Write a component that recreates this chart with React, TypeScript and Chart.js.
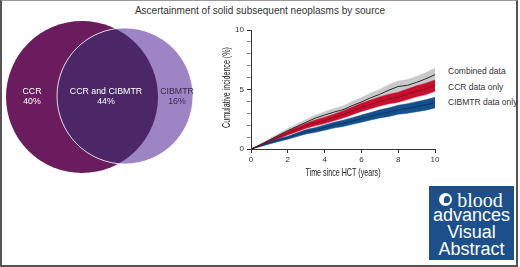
import React, { useEffect, useRef } from 'react';
import { Chart, registerables } from 'chart.js';

Chart.register(...registerables);

// ---------- data ----------
const TITLE = 'Ascertainment of solid subsequent neoplasms by source';

const VENN_LABELS = ['CCR', 'CCR and CIBMTR', 'CIBMTR'];
const VENN_SHARES = [40, 44, 16];

const YEARS = [0, 0.5, 1, 1.5, 2, 2.5, 3, 3.5, 4, 4.5, 5, 5.5, 6, 6.5, 7, 7.5, 8, 8.5, 9, 9.5, 10];

const COMBINED = [0, 0.35, 0.75, 1.15, 1.55, 1.9, 2.25, 2.6, 2.85, 3.1, 3.3, 3.65, 3.95, 4.3, 4.6, 4.95, 5.25, 5.35, 5.6, 5.9, 6.25];
const COMBINED_LO = [0, 0.28, 0.63, 1.0, 1.37, 1.69, 2.02, 2.34, 2.57, 2.8, 2.98, 3.3, 3.58, 3.9, 4.18, 4.5, 4.78, 4.87, 5.1, 5.38, 5.72];
const COMBINED_HI = [0, 0.42, 0.87, 1.3, 1.73, 2.11, 2.48, 2.86, 3.13, 3.4, 3.62, 4.0, 4.32, 4.7, 5.02, 5.4, 5.72, 5.83, 6.1, 6.42, 6.8];

const CCR = [0, 0.3, 0.65, 1.0, 1.35, 1.65, 1.95, 2.2, 2.4, 2.65, 2.9, 3.2, 3.5, 3.75, 4.0, 4.2, 4.35, 4.6, 4.85, 5.05, 5.35];
const CCR_LO = [0, 0.24, 0.54, 0.86, 1.18, 1.46, 1.74, 1.96, 2.14, 2.37, 2.6, 2.88, 3.16, 3.39, 3.62, 3.8, 3.93, 4.16, 4.39, 4.57, 4.85];
const CCR_HI = [0, 0.36, 0.76, 1.14, 1.52, 1.84, 2.16, 2.44, 2.66, 2.93, 3.2, 3.52, 3.84, 4.11, 4.38, 4.6, 4.77, 5.04, 5.31, 5.53, 5.8];

const CIBMTR = [0, 0.25, 0.5, 0.75, 0.95, 1.2, 1.45, 1.6, 1.8, 2.0, 2.15, 2.35, 2.55, 2.75, 2.95, 3.1, 3.3, 3.4, 3.55, 3.7, 3.9];
const CIBMTR_LO = [0, 0.2, 0.42, 0.64, 0.82, 1.04, 1.27, 1.4, 1.58, 1.76, 1.89, 2.07, 2.25, 2.43, 2.61, 2.74, 2.92, 3.0, 3.13, 3.26, 3.45];
const CIBMTR_HI = [0, 0.3, 0.58, 0.86, 1.08, 1.36, 1.63, 1.8, 2.02, 2.24, 2.41, 2.63, 2.85, 3.07, 3.29, 3.46, 3.68, 3.8, 3.97, 4.14, 4.35];

const SERIES_NAMES = ['Combined data', 'CCR data only', 'CIBMTR data only'];
const X_TICKS = [0, 2, 4, 6, 8, 10];
const Y_LABELED = [0, 5, 10];
const X_TITLE = 'Time since HCT (years)';
const Y_TITLE = 'Cumulative incidence (%)';

// ---------- styles ----------
const SANS = "'Liberation Sans', Arial, sans-serif";
const TEXT = '#333333';

const pts = (ys: number[]) => YEARS.map((x, i) => ({ x, y: ys[i] }));

// Venn geometry (canvas units)
const VENN_GEOM = {
  left: { cx: 82, cy: 82, r: 76, color: '#6b1c5e' },
  right: { cx: 125, cy: 81, r: 68, color: '#9d84c2' },
  overlap: '#4b2768',
  labelX: [32, 106, 177],
  labelY: [77, 87],
  labelColor: ['#ffffff', '#ffffff', '#3a2a4c'],
};

const vennPlugin = {
  id: 'venn',
  afterDraw(chart: any) {
    const { ctx } = chart;
    const xs = chart.scales.x;
    const ys = chart.scales.y;
    const circ = (c: { cx: number; cy: number; r: number }) => {
      const px = xs.getPixelForValue(c.cx);
      const py = ys.getPixelForValue(c.cy);
      const pr = xs.getPixelForValue(c.cx + c.r) - px;
      ctx.beginPath();
      ctx.arc(px, py, pr, 0, Math.PI * 2);
      ctx.closePath();
    };
    const L = VENN_GEOM.left;
    const R = VENN_GEOM.right;
    ctx.save();
    circ(L);
    ctx.fillStyle = L.color;
    ctx.fill();
    circ(R);
    ctx.fillStyle = R.color;
    ctx.fill();
    ctx.save();
    circ(L);
    ctx.clip();
    circ(R);
    ctx.fillStyle = VENN_GEOM.overlap;
    ctx.fill();
    ctx.restore();
    circ(R);
    ctx.strokeStyle = '#ffffff';
    ctx.lineWidth = 0.8;
    ctx.stroke();

    ctx.font = `8.8px ${SANS}`;
    ctx.textAlign = 'center';
    ctx.textBaseline = 'middle';
    VENN_LABELS.forEach((lab, i) => {
      ctx.fillStyle = VENN_GEOM.labelColor[i];
      const x = xs.getPixelForValue(VENN_GEOM.labelX[i]);
      ctx.fillText(lab, x, ys.getPixelForValue(VENN_GEOM.labelY[0]));
      ctx.fillText(`${VENN_SHARES[i]}%`, x, ys.getPixelForValue(VENN_GEOM.labelY[1]));
    });
    ctx.restore();
  },
};

// Condensed axis titles (no narrow font installed, so squeeze horizontally)
const axisTitlePlugin = {
  id: 'condensedTitles',
  afterDraw(chart: any) {
    const { ctx, chartArea } = chart;
    ctx.save();
    ctx.font = `10.5px ${SANS}`;
    ctx.fillStyle = '#222222';
    ctx.textAlign = 'center';
    ctx.textBaseline = 'middle';
    ctx.save();
    ctx.translate((chartArea.left + chartArea.right) / 2, chartArea.bottom + 24);
    ctx.scale(0.68, 1);
    ctx.fillText(X_TITLE, 0, 0);
    ctx.restore();
    ctx.save();
    ctx.translate(chartArea.left - 24, (chartArea.top + chartArea.bottom) / 2 - 2);
    ctx.rotate(-Math.PI / 2);
    ctx.scale(0.68, 1);
    ctx.fillText(Y_TITLE, 0, 0);
    ctx.restore();
    ctx.restore();
  },
};

function VennChart() {
  const ref = useRef<HTMLCanvasElement>(null);
  useEffect(() => {
    const chart = new Chart(ref.current!, {
      type: 'scatter',
      data: { datasets: [{ data: [], pointRadius: 0 }] },
      options: {
        animation: false,
        responsive: false,
        devicePixelRatio: 1,
        layout: { padding: 0 },
        plugins: { legend: { display: false }, tooltip: { enabled: false } },
        scales: {
          x: { type: 'linear', min: 0, max: 210, display: false },
          y: { type: 'linear', min: 0, max: 170, reverse: true, display: false },
        },
      },
      plugins: [vennPlugin],
    } as any);
    return () => chart.destroy();
  }, []);
  return (
    <canvas
      ref={ref}
      width={210}
      height={170}
      style={{ position: 'absolute', left: 0, top: 15, width: 210, height: 170 }}
    />
  );
}

function IncidenceChart() {
  const ref = useRef<HTMLCanvasElement>(null);
  useEffect(() => {
    const line = (data: number[], color: string) => ({
      data: pts(data),
      borderColor: color,
      borderWidth: 1,
      pointRadius: 0,
      fill: false,
      tension: 0,
    });
    const band = (data: number[], color: string, fill: any) => ({
      data: pts(data),
      borderColor: color,
      borderWidth: 0.5,
      backgroundColor: color,
      pointRadius: 0,
      fill,
      tension: 0,
    });
    const chart = new Chart(ref.current!, {
      type: 'line',
      data: {
        datasets: [
          { label: SERIES_NAMES[0], ...line(COMBINED, '#2b2b2b') },
          { label: SERIES_NAMES[1], ...line(CCR, '#8e0a20') },
          { label: SERIES_NAMES[2], ...line(CIBMTR, '#0a3566') },
          band(CIBMTR_HI, '#14508e', '+1'),
          band(CIBMTR_LO, '#14508e', false),
          band(CCR_HI, '#c8102e', '+1'),
          band(CCR_LO, '#c8102e', false),
          band(COMBINED_HI, '#c9c9c9', '+1'),
          band(COMBINED_LO, '#c9c9c9', false),
        ],
      },
      options: {
        animation: false,
        responsive: false,
        devicePixelRatio: 1,
        layout: { padding: { top: 10, right: 10, left: 0, bottom: 0 } },
        plugins: { legend: { display: false }, tooltip: { enabled: false } },
        scales: {
          x: {
            type: 'linear',
            min: 0,
            max: 10,
            afterFit: (s: any) => { s.height = 36; },
            afterBuildTicks: (s: any) => { s.ticks = X_TICKS.map((v) => ({ value: v })); },
            grid: { drawOnChartArea: false, drawTicks: true, tickLength: 4, color: TEXT },
            border: { display: true, color: TEXT, width: 1 },
            ticks: { color: TEXT, font: { size: 8, family: SANS }, padding: 2, maxRotation: 0 },
            title: { display: false },
          },
          y: {
            type: 'linear',
            min: 0,
            max: 10,
            afterFit: (s: any) => { s.width = 41; },
            grid: {
              drawOnChartArea: false,
              drawTicks: true,
              tickLength: 4,
              color: TEXT,
              tickColor: (c: any) => (c.tick && Y_LABELED.includes(c.tick.value) ? TEXT : '#8a8a8a'),
            },
            border: { display: true, color: TEXT, width: 1 },
            ticks: {
              stepSize: 1,
              autoSkip: false,
              color: TEXT,
              font: { size: 8, family: SANS },
              padding: 3,
              callback: (v: any) => (Y_LABELED.includes(Number(v)) ? String(v) : ''),
            },
            title: { display: false },
          },
        },
      },
      plugins: [axisTitlePlugin],
    } as any);
    return () => chart.destroy();
  }, []);
  return (
    <canvas
      ref={ref}
      width={235}
      height={165}
      style={{ position: 'absolute', left: 210, top: 20, width: 235, height: 165 }}
    />
  );
}

export default function App() {
  useEffect(() => {
    document.body.style.margin = '0';
  }, []);
  const legendTop = [71, 87, 102];
  return (
    <div
      style={{
        position: 'relative',
        width: 520,
        height: 267,
        overflow: 'hidden',
        background: '#ffffff',
        fontFamily: SANS,
      }}
    >
      <div
        style={{
          position: 'absolute',
          left: 0,
          top: 0,
          width: 518,
          height: 267,
          boxSizing: 'border-box',
          borderLeft: '2px solid #555',
          borderRight: '2px solid #555',
          borderBottom: '2px solid #555',
          borderTop: '1px solid #9a9a9a',
        }}
      />
      <div
        style={{
          position: 'absolute',
          left: 0,
          width: 520,
          top: 5,
          textAlign: 'center',
          fontSize: 10,
          lineHeight: '12px',
          color: TEXT,
        }}
      >
        {TITLE}
      </div>
      <VennChart />
      <IncidenceChart />
      {SERIES_NAMES.map((n, i) => (
        <div
          key={n}
          style={{
            position: 'absolute',
            left: 448,
            top: legendTop[i] - 6,
            fontSize: 8.5,
            lineHeight: '12px',
            color: TEXT,
            whiteSpace: 'nowrap',
          }}
        >
          {n}
        </div>
      ))}
      <div
        style={{
          position: 'absolute',
          left: 429,
          top: 186,
          width: 85,
          height: 74,
          background: '#1d4f8b',
          color: '#ffffff',
        }}
      >
        <div
          style={{
            position: 'absolute',
            left: 10,
            top: 7,
            width: 13,
            height: 13,
            borderRadius: '50%',
            background: '#ffffff',
          }}
        >
          <div
            style={{
              position: 'absolute',
              left: 5,
              top: 3,
              width: 6,
              height: 7,
              borderRadius: '50% 50% 50% 0',
              background: '#1d4f8b',
            }}
          />
        </div>
        <div
          style={{
            position: 'absolute',
            left: 20,
            width: 62,
            top: 3,
            textAlign: 'center',
            fontFamily: "'Liberation Serif', serif",
            fontSize: 20,
            lineHeight: '22px',
          }}
        >
          blood
        </div>
        {['advances', 'Visual', 'Abstract'].map((t, i) => (
          <div
            key={t}
            style={{
              position: 'absolute',
              left: 0,
              width: 85,
              top: 20 + i * 17,
              textAlign: 'center',
              fontSize: 18,
              lineHeight: '18px',
            }}
          >
            {t}
          </div>
        ))}
      </div>
    </div>
  );
}
